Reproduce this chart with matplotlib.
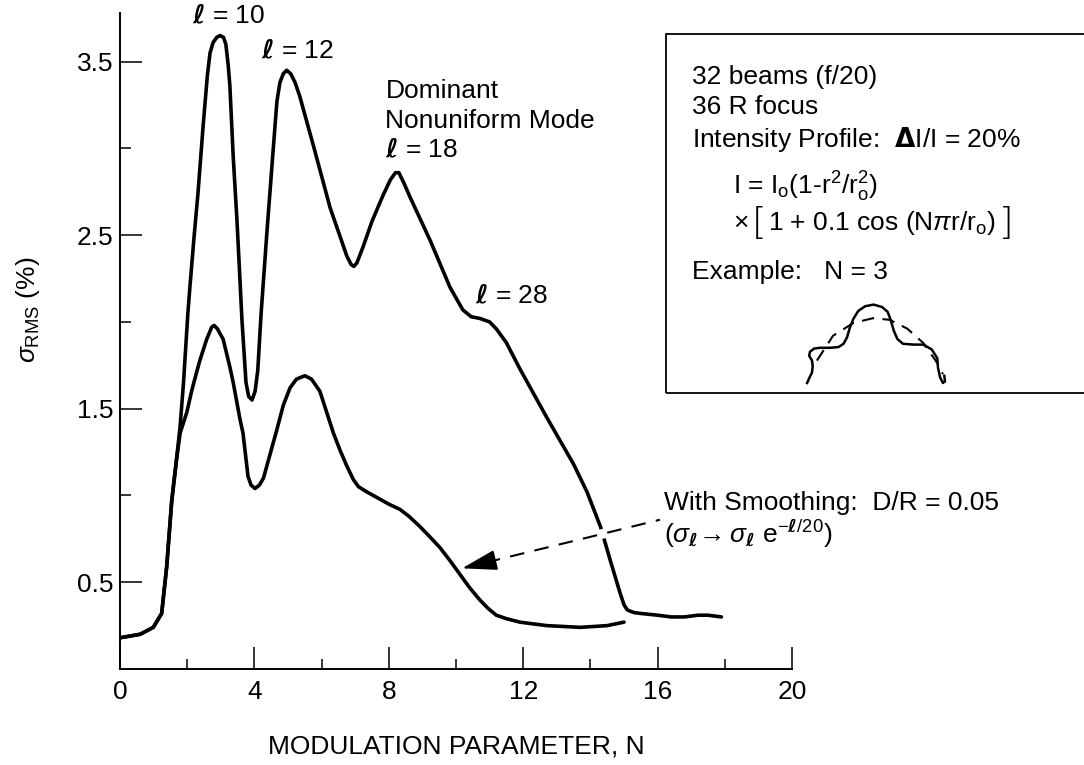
import numpy as np
import matplotlib
matplotlib.use('Agg')
import matplotlib.pyplot as plt
from matplotlib.patches import Rectangle

plt.rcParams['font.family'] = ['Liberation Sans', 'DejaVu Sans']
plt.rcParams['mathtext.fontset'] = 'custom'
plt.rcParams['mathtext.rm'] = 'Liberation Sans'
plt.rcParams['mathtext.it'] = 'Liberation Sans:italic'
plt.rcParams['mathtext.bf'] = 'DejaVu Sans:bold'

# shared rise of both curves (N, sigma_RMS %)
rise_N = [0, 0.6, 0.99, 1.24, 1.39, 1.54, 1.69]
rise_sigma = [0.18, 0.20, 0.24, 0.32, 0.59, 0.97, 1.22]

# no smoothing
upper_N = [1.79, 1.89, 2.02, 2.08, 2.2, 2.32, 2.47, 2.6, 2.68, 2.77, 2.88, 2.98,
           3.08, 3.15, 3.22, 3.27, 3.37, 3.48, 3.63, 3.75, 3.83, 3.93, 4.02, 4.1,
           4.2, 4.37, 4.55, 4.67, 4.76, 4.86, 4.96, 5.08, 5.21, 5.35, 5.75, 6.25,
           6.75, 6.88, 6.96, 7.05, 7.23, 7.5, 7.83, 8.05, 8.2, 8.3, 8.45, 8.63,
           9.23, 9.82, 10.2, 10.45, 10.71, 11.0, 11.2, 11.5, 11.9, 12.7, 13.5,
           13.9, 14.3, 14.6, 14.88, 15.0, 15.1, 15.3, 15.5, 16.0, 16.4, 16.8,
           17.2, 17.5, 17.9]
upper_sigma = [1.40, 1.65, 2.05, 2.20, 2.48, 2.74, 3.12, 3.42, 3.55, 3.61, 3.64, 3.65,
               3.64, 3.60, 3.48, 3.36, 2.95, 2.59, 2.01, 1.65, 1.57, 1.55, 1.60, 1.72,
               2.05, 2.51, 2.97, 3.27, 3.38, 3.43, 3.45, 3.43, 3.38, 3.30, 3.02, 2.66,
               2.38, 2.33, 2.32, 2.34, 2.43, 2.58, 2.73, 2.82, 2.86, 2.86, 2.80, 2.72,
               2.47, 2.20, 2.07, 2.03, 2.02, 2.00, 1.96, 1.88, 1.73, 1.45, 1.18,
               1.02, 0.82, 0.62, 0.44, 0.37, 0.34, 0.325, 0.32, 0.31, 0.30, 0.30,
               0.31, 0.31, 0.30]

# with smoothing D/R = 0.05
lower_N = [1.79, 1.99, 2.13, 2.28, 2.38, 2.58, 2.73, 2.8, 2.9, 3.07, 3.27, 3.37,
           3.57, 3.66, 3.81, 3.9, 4.02, 4.15, 4.27, 4.47, 4.67, 4.86, 5.06, 5.25,
           5.5, 5.7, 5.95, 6.15, 6.35, 6.55, 6.75, 6.95, 7.1, 7.35, 7.63, 8.0,
           8.33, 8.6, 8.93, 9.23, 9.52, 9.8, 10.1, 10.4, 10.7, 10.95, 11.2, 11.5,
           11.9, 12.3, 12.7, 13.2, 13.7, 14.1, 14.5, 15.0]
lower_sigma = [1.36, 1.48, 1.60, 1.71, 1.78, 1.90, 1.97, 1.98, 1.96, 1.90, 1.74, 1.65,
               1.44, 1.36, 1.11, 1.06, 1.04, 1.06, 1.10, 1.24, 1.38, 1.52, 1.62, 1.67,
               1.69, 1.67, 1.60, 1.48, 1.36, 1.26, 1.17, 1.09, 1.05, 1.02, 0.99, 0.95,
               0.92, 0.88, 0.82, 0.76, 0.70, 0.63, 0.55, 0.47, 0.40, 0.35, 0.31, 0.29,
               0.27, 0.26, 0.25, 0.245, 0.24, 0.245, 0.25, 0.27]

# example sketch in the box (r/r0, relative intensity)
sketch_r = [-0.97, -0.94, -0.90, -0.89, -0.90, -0.94, -0.93, -0.87, -0.79, -0.64,
            -0.52, -0.45, -0.40, -0.36, -0.31, -0.24, -0.14, -0.02, 0.10, 0.18,
            0.22, 0.27, 0.32, 0.40, 0.55, 0.69, 0.81, 0.89, 0.90, 0.93, 0.97,
            1.0, 0.99]
sketch_I = [0.0, 0.06, 0.13, 0.21, 0.28, 0.34, 0.39, 0.43, 0.44, 0.44,
            0.45, 0.49, 0.57, 0.69, 0.80, 0.90, 0.96, 0.98, 0.95, 0.89,
            0.80, 0.65, 0.55, 0.49, 0.48, 0.48, 0.42, 0.31, 0.19, 0.07, 0.0,
            0.02, 0.09]
sketch_avg_r = [-0.83, -0.6, -0.31, -0.03, 0.21, 0.46, 0.69, 0.89, 0.97]
sketch_avg_I = [0.28, 0.59, 0.75, 0.81, 0.79, 0.68, 0.50, 0.25, 0.11]

x_major = [0, 4, 8, 12, 16, 20]
x_minor = [2, 6, 10, 14, 18]
y_major = [0.5, 1.5, 2.5, 3.5]
y_minor = [1.0, 2.0, 3.0]

arrow_head = (10.18, 0.58)
arrow_tail = (16.07, 0.86)

fs = 19
W, H = 1084, 765
fig = plt.figure(figsize=(W / 100, H / 100), dpi=100)
ax = fig.add_axes([120 / W, 1 - 669 / H, 672 / W, (669 - 13) / H])

ax.plot(np.concatenate([rise_N, upper_N]), np.concatenate([rise_sigma, upper_sigma]),
        color='black', lw=2.6, solid_joinstyle='round', solid_capstyle='round', zorder=3)
ax.plot(np.concatenate([rise_N, lower_N]), np.concatenate([rise_sigma, lower_sigma]),
        color='black', lw=2.6, solid_joinstyle='round', solid_capstyle='round', zorder=3)

# dashed pointer to the smoothed curve, with a gap where it crosses the upper curve
tx, ty = arrow_tail
hx, hy = arrow_head
bx, by = hx + 0.12 * (tx - hx), hy + 0.12 * (ty - hy)
ax.plot([bx, tx], [by, ty], color='white', lw=7, zorder=4)
ax.plot([bx, tx], [by, ty], color='black', lw=1.5, dashes=(7, 5), zorder=5)
ax.annotate('', xy=arrow_head, xytext=(bx, by),
            arrowprops=dict(arrowstyle='-|>,head_length=1.2,head_width=0.35',
                            color='black', lw=1.5, mutation_scale=18,
                            shrinkA=0, shrinkB=0), zorder=6)

ax.set_xlim(0, 20)
ax.set_ylim(0, 3.78)
ax.set_xticks(x_major)
ax.set_xticks(x_minor, minor=True)
ax.set_yticks(y_major)
ax.set_yticks(y_minor, minor=True)
ax.set_xticklabels([str(v) for v in x_major])
ax.set_yticklabels([str(v) for v in y_major])
ax.tick_params(which='both', direction='in', width=1.1, labelsize=fs)
ax.tick_params(axis='x', which='major', length=16, pad=8)
ax.tick_params(axis='x', which='minor', length=7)
ax.tick_params(axis='y', which='major', length=16, pad=5)
ax.tick_params(axis='y', which='minor', length=8)
for s in ['top', 'right']:
    ax.spines[s].set_visible(False)
for s in ['left', 'bottom']:
    ax.spines[s].set_linewidth(1.4)

ax.set_xlabel('MODULATION PARAMETER, N', fontsize=fs, labelpad=22)
fig.text(28 / W, 1 - 310 / H, r'$\sigma_{\mathrm{RMS}}$ (%)', rotation=90,
         fontsize=fs, ha='center', va='center')

ell = r'$\mathbf{ℓ}$'
ax.text(3.24, 3.76, ell + ' = 10', fontsize=fs, ha='center', va='center')
ax.text(5.27, 3.56, ell + ' = 12', fontsize=fs, ha='center', va='center')
ax.text(7.9, 3.33, 'Dominant', fontsize=fs, ha='left', va='center')
ax.text(7.9, 3.16, 'Nonuniform Mode', fontsize=fs, ha='left', va='center')
ax.text(7.9, 2.99, ell + ' = 18', fontsize=fs, ha='left', va='center')
ax.text(10.57, 2.15, ell + ' = 28', fontsize=fs, ha='left', va='center')
ax.text(16.2, 0.955, 'With Smoothing:  D/R = 0.05', fontsize=fs, ha='left',
        va='center', clip_on=False)
ax.text(16.2, 0.78, r'$(\sigma_{\mathbf{ℓ}}\!\rightarrow \sigma_{\mathbf{ℓ}}\ \mathrm{e}^{-\mathbf{ℓ}/20})$',
        fontsize=fs, ha='left', va='center', clip_on=False)

# parameter box
fig.add_artist(Rectangle((666 / W, 1 - 393 / H), 0.5, (393 - 34) / H,
                         transform=fig.transFigure, fill=False, lw=1.3,
                         edgecolor='black'))
bx0 = 692 / W
bx1 = 733 / W
fig.text(bx0, 1 - 77 / H, '32 beams (f/20)', fontsize=fs, va='center')
fig.text(bx0, 1 - 107 / H, '36 R focus', fontsize=fs, va='center')
fig.text(bx0, 1 - 140 / H, r'Intensity Profile:  $\mathbf{Δ}$I/I = 20%', fontsize=fs, va='center')
fig.text(bx1, 1 - 187 / H, r'I = I$_\mathrm{o}$(1-r$^2$/r$_\mathrm{o}^2$)', fontsize=fs, va='center')

# second line of the profile, with tall brackets
yb = 1 - 223 / H
fig.text(bx1, yb, '×', fontsize=fs, va='center')
fig.text(752 / W, yb, '[', fontsize=27, va='center', family='DejaVu Sans',
         fontweight='light')
inner = fig.text(768 / W, yb, r'1 + 0.1 cos (N$\pi$r/r$_\mathrm{o}$)', fontsize=fs, va='center')
fig.canvas.draw()
ext = inner.get_window_extent()
fig.text((ext.x1 + 3) / W, yb, ']', fontsize=27, va='center', family='DejaVu Sans',
         fontweight='light')

fig.text(bx0, 1 - 272 / H, 'Example:   N = 3', fontsize=fs, va='center')

sk = fig.add_axes([805 / W, 1 - 383 / H, 140 / W, 80 / H])
sk.plot(sketch_r, sketch_I, color='black', lw=1.8, solid_joinstyle='round')
sk.plot(sketch_avg_r, sketch_avg_I, color='black', lw=1.5, dashes=(6, 4))
sk.set_xlim(-1, 1)
sk.set_ylim(0, 1)
sk.axis('off')
for ln in sk.lines:
    ln.set_clip_on(False)

fig.savefig('out.png', dpi=100)
